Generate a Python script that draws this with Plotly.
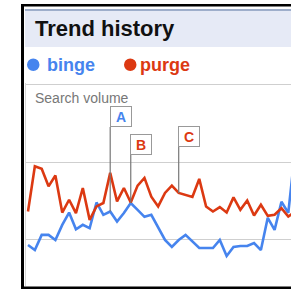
import plotly.graph_objects as go

W, H = 291, 289

# ---- data (relative search volume) ----
weeks = list(range(40))
binge = [0.935, 0.871, 1.065, 1.065, 1.000, 1.194, 1.352, 1.138, 1.194, 1.151,
         1.481, 1.323, 1.365, 1.236, 1.345, 1.474, 1.387, 1.297, 1.323, 1.155,
         1.000, 0.910, 1.000, 1.065, 0.987, 0.897, 0.897, 0.897, 1.000, 0.794,
         0.910, 0.923, 0.923, 0.961, 0.871, 1.284, 1.129, 1.490, 1.348, 2.160]
purge = [1.365, 1.946, 1.912, 1.688, 1.826, 1.352, 1.516, 1.345, 1.667, 1.258,
         1.430, 1.474, 1.861, 1.494, 1.667, 1.481, 1.697, 1.796, 1.555, 1.430,
         1.603, 1.697, 1.603, 1.581, 1.551, 1.783, 1.430, 1.365, 1.422, 1.352,
         1.546, 1.387, 1.507, 1.314, 1.452, 1.310, 1.323, 1.409, 1.301, 1.361]
series_names = ["binge", "purge"]
flag_labels = ["A", "B", "C"]
flag_weeks = [12, 15, 22]
flag_series = ["binge", "binge", "purge"]
grid_vals = [1, 2, 3]

BLUE = "#4684EE"
RED = "#DC3912"
FONT = "Liberation Sans, Arial, sans-serif"

# plot area in pixels and value range
PL, PR, PT, PB = 26, W, 83, 286
YMIN, YMAX = 0.41, 3.013


def px(x):
    return x / W


def py(y):
    return 1 - y / H


def val_at_pixel(y):
    return YMIN + (PB - y) / (PB - PT) * (YMAX - YMIN)


fig = go.Figure()
fig.add_trace(go.Scatter(x=weeks, y=binge, mode="lines", name=series_names[0],
                         line=dict(color=BLUE, width=2.6), showlegend=False, hoverinfo="skip"))
fig.add_trace(go.Scatter(x=weeks, y=purge, mode="lines", name=series_names[1],
                         line=dict(color=RED, width=2.6), showlegend=False, hoverinfo="skip"))

shapes = []
# header band
shapes.append(dict(type="rect", xref="paper", yref="paper", x0=px(25), x1=px(W), y0=py(47), y1=py(10),
                   fillcolor="#e6eaf6", line=dict(width=0), layer="below"))
shapes.append(dict(type="rect", xref="paper", yref="paper", x0=px(25), x1=px(W), y0=py(11), y1=py(9),
                   fillcolor="#9eaecb", line=dict(width=0), layer="below"))
# black frame
shapes.append(dict(type="rect", xref="paper", yref="paper", x0=px(21), x1=px(24), y0=py(289), y1=py(4),
                   fillcolor="#000", line=dict(width=0), layer="above"))
shapes.append(dict(type="rect", xref="paper", yref="paper", x0=px(21), x1=px(W), y0=py(6.5), y1=py(4),
                   fillcolor="#000", line=dict(width=0), layer="above"))
shapes.append(dict(type="rect", xref="paper", yref="paper", x0=px(21), x1=px(W), y0=py(289), y1=py(286.5),
                   fillcolor="#000", line=dict(width=0), layer="above"))
# legend dots
shapes.append(dict(type="circle", xref="paper", yref="paper", x0=px(27), x1=px(39.5), y0=py(71), y1=py(58.5),
                   fillcolor=BLUE, line=dict(width=0)))
shapes.append(dict(type="circle", xref="paper", yref="paper", x0=px(124), x1=px(136.5), y0=py(71), y1=py(58.5),
                   fillcolor=RED, line=dict(width=0)))

annotations = []
annotations.append(dict(text="<b>Trend history</b>", xref="paper", yref="paper", x=px(33), y=py(29),
                        xanchor="left", yanchor="middle", showarrow=False,
                        font=dict(family=FONT, size=22, color="#111")))
annotations.append(dict(text="<b>binge</b>", xref="paper", yref="paper", x=px(45), y=py(65),
                        xanchor="left", yanchor="middle", showarrow=False,
                        font=dict(family=FONT, size=18, color=BLUE)))
annotations.append(dict(text="<b>purge</b>", xref="paper", yref="paper", x=px(138), y=py(65),
                        xanchor="left", yanchor="middle", showarrow=False,
                        font=dict(family=FONT, size=18, color=RED)))
annotations.append(dict(text="Search volume", xref="paper", yref="paper", x=px(33), y=py(98),
                        xanchor="left", yanchor="middle", showarrow=False,
                        font=dict(family=FONT, size=14, color="#777")))

# flags
flag_box_bottom = [127, 155, 147]
data = {"binge": binge, "purge": purge}
for lab, wk, s, yb in zip(flag_labels, flag_weeks, flag_series, flag_box_bottom):
    shapes.append(dict(type="line", xref="x", yref="y", x0=wk, x1=wk,
                       y0=data[s][wk], y1=val_at_pixel(yb), line=dict(color="#777", width=1.2),
                       layer="above"))
    annotations.append(dict(text="<b>%s</b>" % lab, xref="x", yref="paper", x=wk, y=py(yb),
                            xanchor="left", yanchor="bottom", showarrow=False, xshift=-0.6,
                            font=dict(family=FONT, size=14, color=BLUE if lab == "A" else RED),
                            bgcolor="white", bordercolor="#999", borderwidth=1, borderpad=2,
                            width=16, height=15))

fig.update_layout(
    width=W, height=H, margin=dict(l=0, r=0, t=0, b=0),
    paper_bgcolor="white", plot_bgcolor="white",
    shapes=shapes, annotations=annotations,
    xaxis=dict(domain=[PL / W, PR / W], range=[-0.292, 38.394], showgrid=False, zeroline=False,
               showticklabels=False, showline=False),
    yaxis=dict(domain=[1 - PB / H, 1 - PT / H], range=[YMIN, YMAX], tickvals=grid_vals,
               showticklabels=False, gridcolor="#cfcfcf", gridwidth=1, zeroline=False,
               showline=True, linecolor="#d6d6d6", linewidth=1),
)

fig.write_html("out.html", config={"displayModeBar": False},
               post_script="document.body.style.margin='0';document.body.style.overflow='hidden';")
